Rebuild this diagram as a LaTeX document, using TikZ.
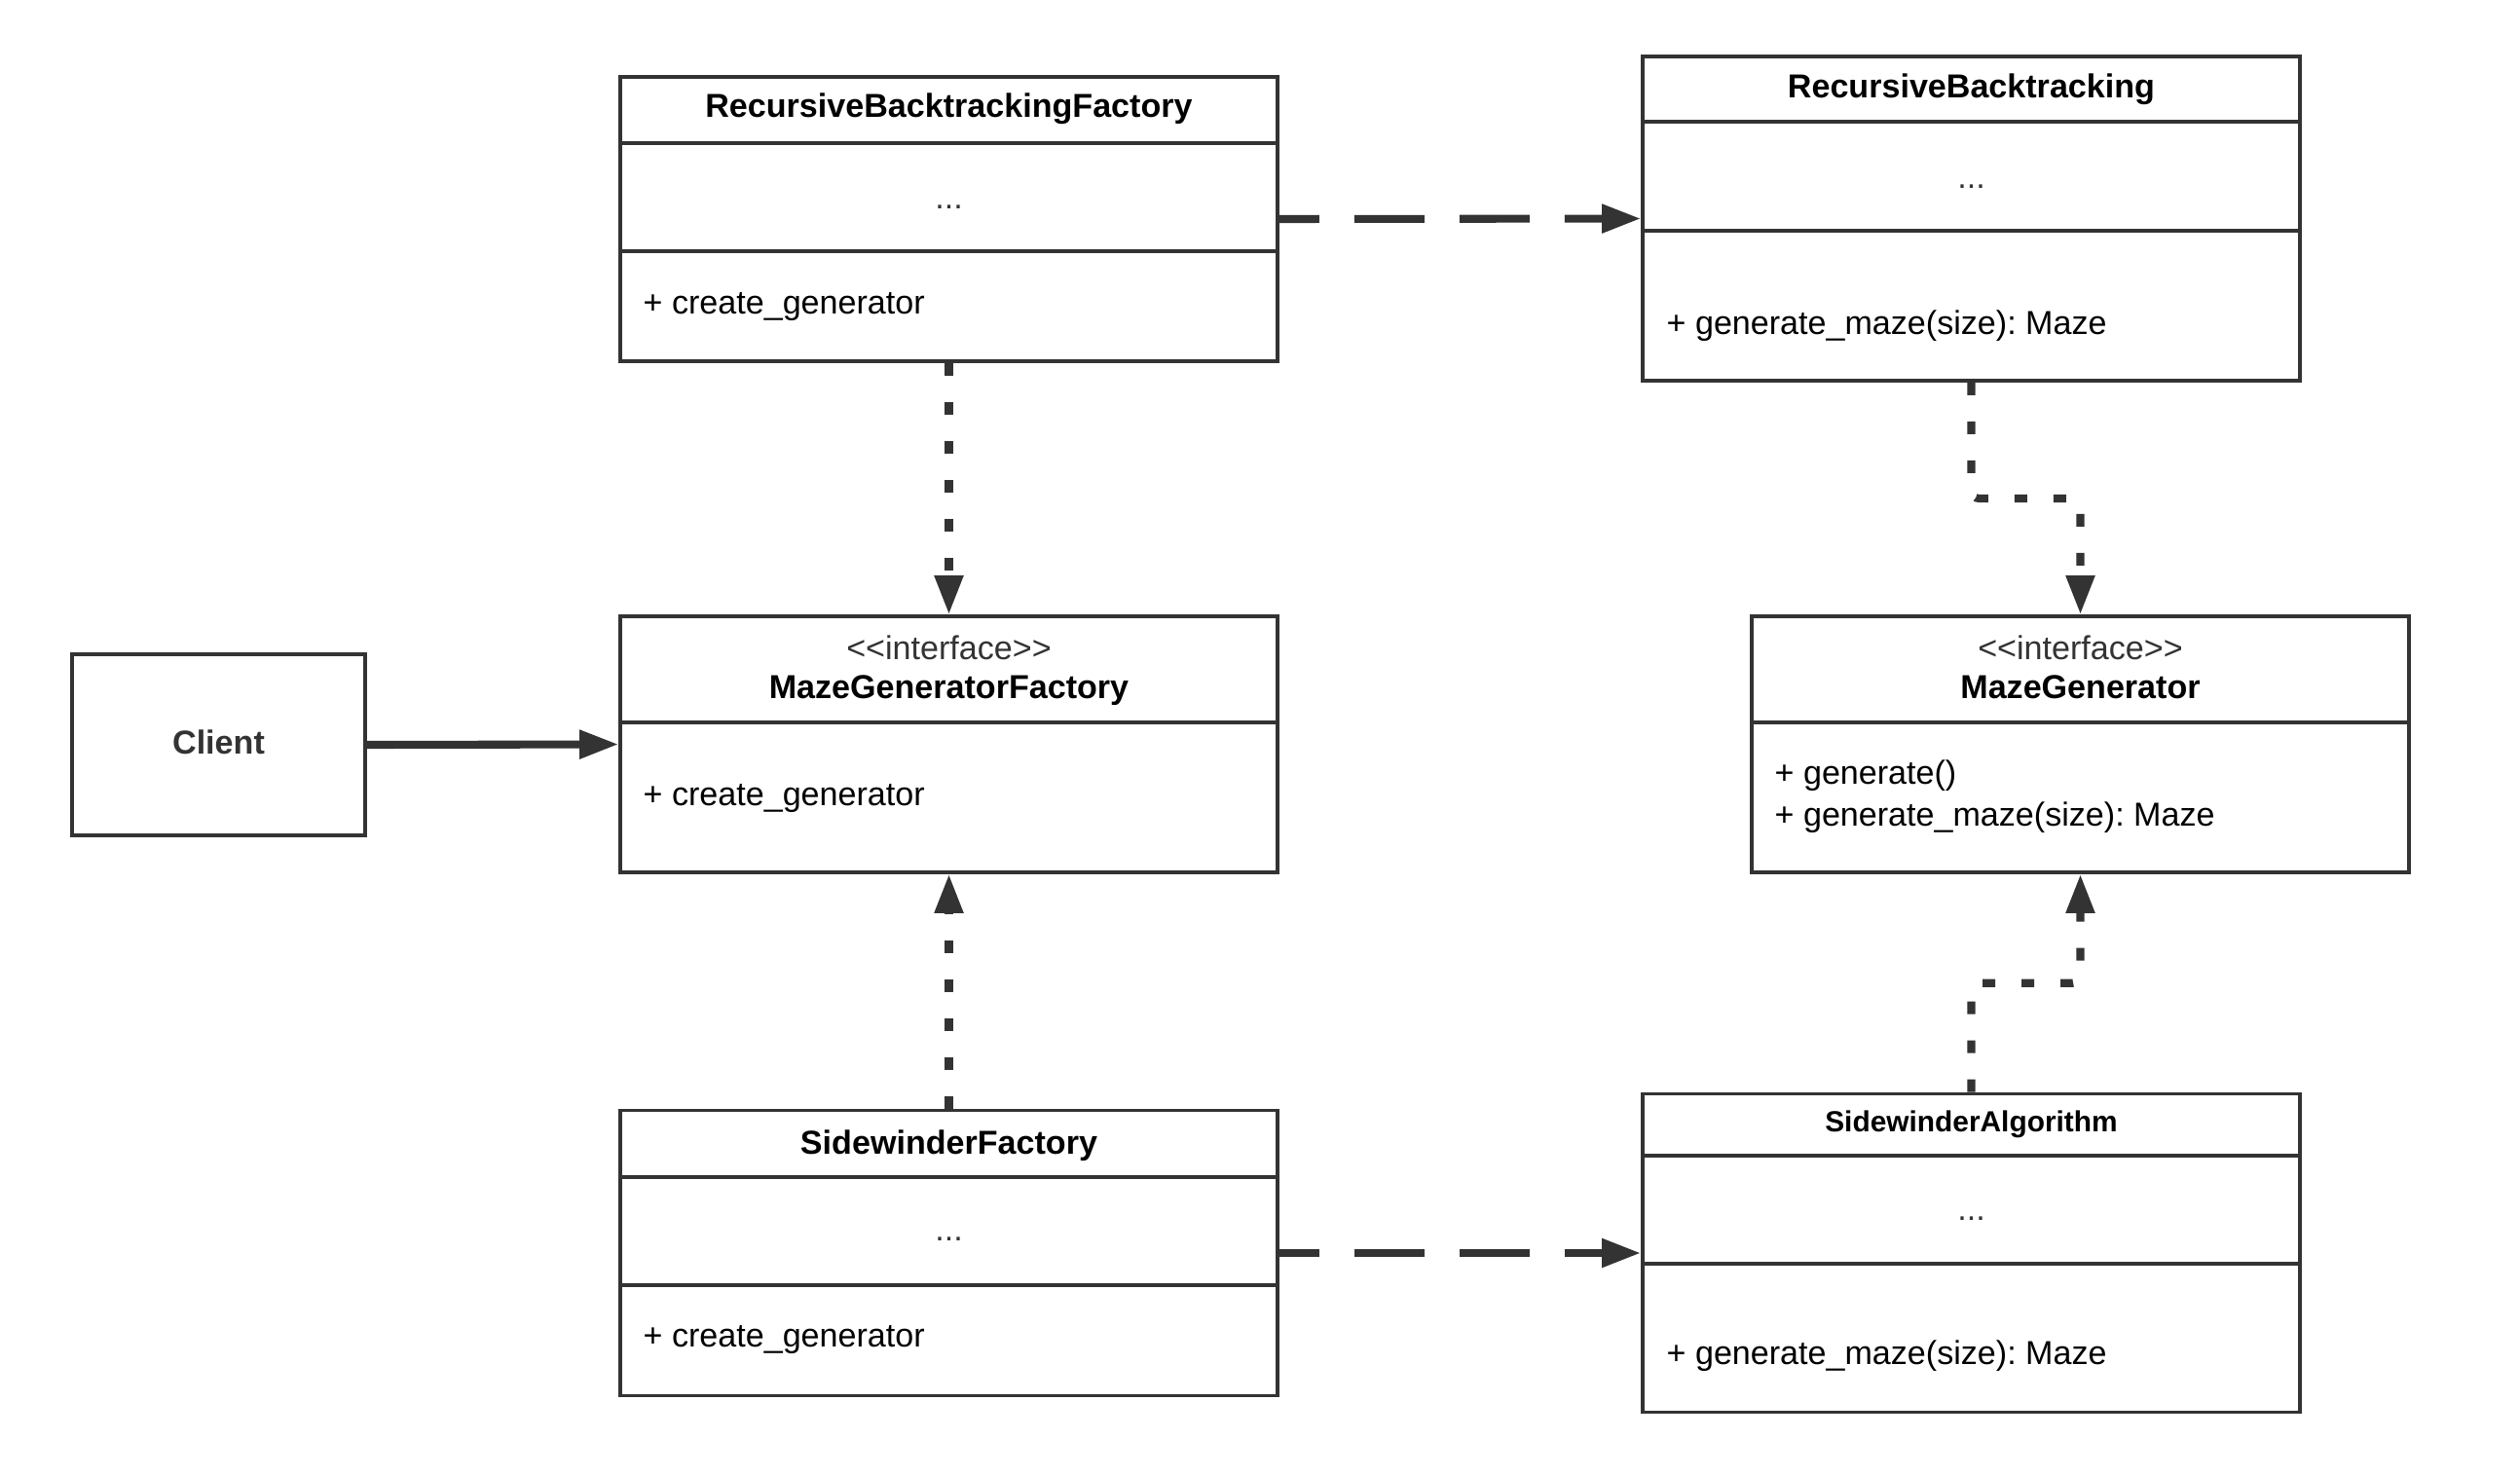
\documentclass[tikz,border=0pt]{standalone}
\usepackage{fontspec}
\usepackage{tikz}
\usepackage{xcolor}
\usetikzlibrary{arrows.meta, calc}

\newfontfamily\umlfont{Liberation Sans}
\definecolor{linegray}{HTML}{333333}
\frenchspacing

\begin{document}
\begin{tikzpicture}[
    classbox/.style={draw=linegray, line width=1.05pt, minimum width=6.75cm, inner sep=0pt},
    classname/.style={font=\umlfont\fontsize{9.7}{11.6}\selectfont\bfseries},
    member/.style={font=\umlfont\fontsize{9.7}{11.6}\selectfont, anchor=west, inner sep=0pt},
    stereo/.style={font=\umlfont\fontsize{9.7}{11.6}\selectfont, text=linegray},
    link/.style={draw=linegray, line width=2.3pt, -{Triangle[length=0.4cm, width=0.28cm]}},
    longdash/.style={dash pattern=on 0.72cm off 0.36cm, dash phase=0.31cm},
    shortdash/.style={dash pattern=on 0.13cm off 0.27cm}
  ]
        \fill[white] (0, 0) rectangle (25.88, -15.15);
        \useasboundingbox (0, 0) rectangle (25.88, -15.15);

        % Factories
        \node[classbox, minimum height=2.92cm] (rbf) at (9.745, -2.25) {};
        \node[classbox, minimum height=2.63cm] (mgf) at (9.745, -7.645) {};
        \node[classbox, minimum height=2.93cm] (sf) at (9.745, -12.87) {};

        % Generators
        \node[classbox, minimum height=3.33cm] (rb) at (20.245, -2.245) {};
        \node[classbox, minimum height=2.63cm] (mg) at (21.365, -7.645) {};
        \node[classbox, minimum height=3.27cm] (sa) at (20.245, -12.87) {};

        % Client
        \node[classbox, minimum width=3.01cm, minimum height=1.86cm, text depth=0.06cm,
              font=\umlfont\fontsize{9.7}{11.6}\selectfont\bfseries, text=linegray] (client) at (2.245, -7.65) {Client};

        % Compartment lines
        \foreach \cls/\d in {rbf/0.70, rbf/1.81, rb/0.69, rb/1.81, mgf/1.11, mg/1.11, sf/0.70, sf/1.81, sa/0.65, sa/1.76} {
            \draw[linegray, line width=1.05pt] ($(\cls.north west)+(0,-\d)$) -- ($(\cls.north east)+(0,-\d)$);
        }

        % Texts
        \node[classname] (rbf-name) at (9.745, -1.12) {RecursiveBacktrackingFactory};
        \node[stereo] (rbf-attr) at (9.745, -2.13) {...};
        \node[member] (rbf-op) at (6.60, -3.15) {+ create\_generator};

        \node[classname] (rb-name) at (20.245, -0.92) {RecursiveBacktracking};
        \node[stereo] (rb-attr) at (20.245, -1.92) {...};
        \node[member] (rb-op) at (17.11, -3.35) {+ generate\_maze(size): Maze};

        \node[stereo] (mgf-stereo) at (9.745, -6.65) {<<interface>>};
        \node[classname] (mgf-name) at (9.745, -7.09) {MazeGeneratorFactory};
        \node[member] (mgf-op) at (6.60, -8.20) {+ create\_generator};

        \node[stereo] (mg-stereo) at (21.365, -6.65) {<<interface>>};
        \node[classname] (mg-name) at (21.365, -7.06) {MazeGenerator};
        \node[member] (mg-op1) at (18.22, -7.97) {+ generate()};
        \node[member] (mg-op2) at (18.22, -8.40) {+ generate\_maze(size): Maze};

        \node[classname] (sf-name) at (9.745, -11.77) {SidewinderFactory};
        \node[stereo] (sf-attr) at (9.745, -12.73) {...};
        \node[member] (sf-op) at (6.60, -13.76) {+ create\_generator};

        \node[classname, font=\umlfont\fontsize{8.5}{10}\selectfont\bfseries] (sa-name) at (20.245, -11.55) {SidewinderAlgorithm};
        \node[stereo] (sa-attr) at (20.245, -12.52) {...};
        \node[member] (sa-op) at (17.11, -13.93) {+ generate\_maze(size): Maze};

        % Connectors
        \draw[link] (client.east) -- (mgf.west);
        \draw[link, longdash] (rbf.east) -- (rb.west);
        \draw[link, longdash] (sf.east) -- (sa.west);
        \draw[link, shortdash] (rbf.south) -- (mgf.north);
        \draw[link, shortdash] (sf.north) -- (mgf.south);
        \draw[link, shortdash, rounded corners=0.08cm] (rb.south) |- ($(rb.south)!0.5!(mg.north)$) -| (mg.north);
        \draw[link, shortdash, rounded corners=0.08cm] (sa.north) |- ($(sa.north)!0.5!(mg.south)$) -| (mg.south);
    \end{tikzpicture}
\end{document}
